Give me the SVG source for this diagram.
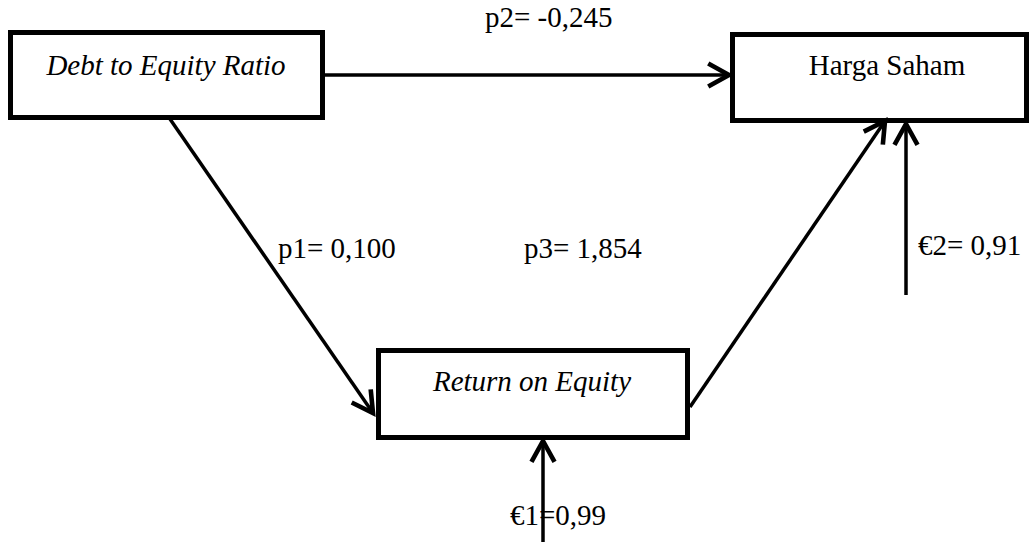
<svg xmlns="http://www.w3.org/2000/svg" width="1033" height="542" viewBox="0 0 1033 542">
<style>
.box{fill:#fff;stroke:#000;stroke-width:5}
.lbl{font-family:"Liberation Serif","Times New Roman",serif;font-size:29px;fill:#000}
.it{font-style:italic}
.con{stroke:#000;stroke-width:3.5;fill:none;marker-end:url(#arr)}
</style>
<defs>
<marker id="arr" markerUnits="userSpaceOnUse" markerWidth="30" markerHeight="30" viewBox="-22 -13 26 26" refX="0" refY="0" orient="auto" overflow="visible">
<path d="M-18,-10 L0,0 L-18,10" fill="none" stroke="#000" stroke-width="4"/>
</marker>
</defs>
<rect width="1033" height="542" fill="#fff"/>
<g id="node-der">
<rect class="box" x="10.5" y="32.5" width="312" height="85"/>
<text class="lbl it" x="166" y="75" text-anchor="middle">Debt to Equity Ratio</text>
</g>
<g id="node-harga">
<rect class="box" x="732.5" y="34.5" width="294" height="86"/>
<text class="lbl" x="887" y="75" text-anchor="middle">Harga Saham</text>
</g>
<g id="node-roe">
<rect class="box" x="378.5" y="350.5" width="309" height="87"/>
<text class="lbl it" x="532" y="391" text-anchor="middle">Return on Equity</text>
</g>
<g id="labels">
<text class="lbl" x="485" y="27">p2= -0,245</text>
<text class="lbl" x="278" y="258">p1= 0,100</text>
<text class="lbl" x="524" y="258">p3= 1,854</text>
<text class="lbl" x="918" y="255">€2= 0,91</text>
<text class="lbl" x="510" y="525">€1=0,99</text>
</g>
<g id="connectors">
<line class="con" x1="325" y1="75" x2="729" y2="75"/>
<line class="con" x1="170" y1="119" x2="373" y2="413"/>
<line class="con" x1="690" y1="407" x2="885" y2="121"/>
<line class="con" x1="906" y1="295" x2="906" y2="124"/>
<line class="con" x1="543" y1="542" x2="543" y2="441"/>
</g>
</svg>
